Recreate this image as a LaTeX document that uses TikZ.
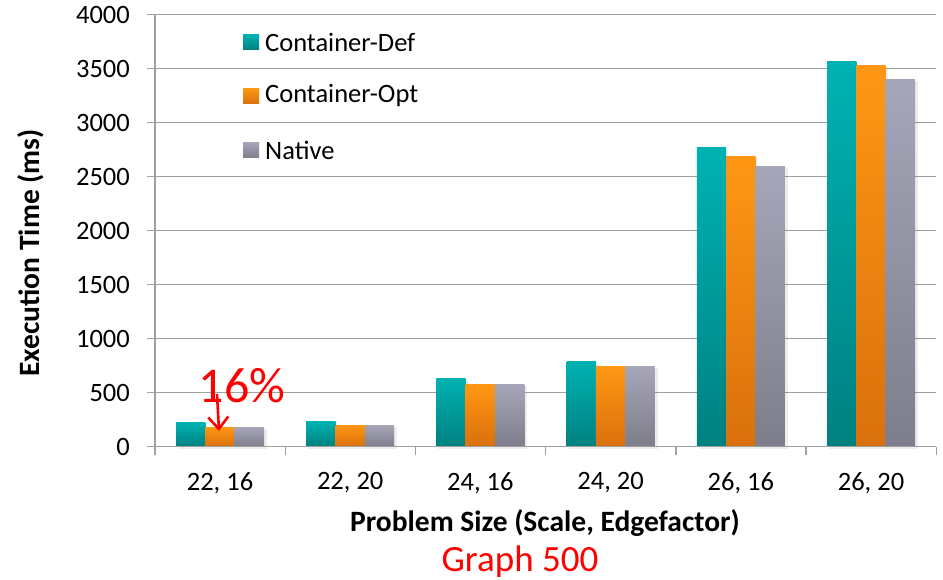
\documentclass[tikz,border=0pt]{standalone}
\usepackage{fontspec}
\setmainfont{Carlito}
\usetikzlibrary{arrows.meta}
\definecolor{gridgray}{HTML}{A0A0A0}
\definecolor{tealtop}{HTML}{00B2B2}
\definecolor{tealbot}{HTML}{008080}
\definecolor{orgtop}{HTML}{FF9714}
\definecolor{orgbot}{HTML}{D9700C}
\definecolor{gratop}{HTML}{A7A6B9}
\definecolor{grabot}{HTML}{7E7D8B}
\definecolor{redtxt}{HTML}{FF0000}
\tikzset{
  gridline/.style={draw=gridgray,line width=1.4pt},
  axisline/.style={draw=gridgray,line width=1.4pt},
  ticklab/.style={font=\fontsize{26.5}{26.5}\selectfont,inner sep=0pt},
  legtxt/.style={font=\fontsize{26.5}{26.5}\selectfont,inner sep=0pt,anchor=west},
  teal bar/.style={top color=tealtop,bottom color=tealbot},
  org bar/.style={top color=orgtop,bottom color=orgbot},
  gra bar/.style={top color=gratop,bottom color=grabot},
  barshadow/.style={fill=black,opacity=0.07},
}
\begin{document}
\begin{tikzpicture}[x=1pt,y=-1pt]
\useasboundingbox (0,0) rectangle (943,580);
% grid lines and y tick labels
\foreach \v in {0,500,...,4000}{
  \draw[gridline] (147,{446.7-0.108*\v}) -- (936,{446.7-0.108*\v});
  \node[ticklab,anchor=east] (y\v) at (130,{446.7-0.108*\v}) {\v};
}
% bars
\foreach \i/\a/\b/\c in {0/222/182/180,1/231/200/200,2/636/580/580,3/793/738/747,4/2766/2690/2599,5/3562/3525/3404}{
  \pgfmathsetmacro{\L}{155+130.2*\i}
  \fill[barshadow] ({\L+23},{446.7-0.108*\a+2}) rectangle ({\L+52.3},449);
  \fill[barshadow] ({\L+52.3},{446.7-0.108*\b+2}) rectangle ({\L+81.6},449);
  \fill[barshadow] ({\L+81.6},{446.7-0.108*\c+2}) rectangle ({\L+112},449);
  \shade[teal bar] ({\L+21},{446.7-0.108*\a}) rectangle ({\L+50.3},446.7);
  \shade[org bar] ({\L+50.3},{446.7-0.108*\b}) rectangle ({\L+79.6},446.7);
  \shade[gra bar] ({\L+79.6},{446.7-0.108*\c}) rectangle ({\L+109},446.7);
}
% axes
\draw[axisline] (155,14.7) -- (155,446.7);
\draw[axisline] (147,446.7) -- (936,446.7);
\foreach \i in {0,...,6}{
  \draw[axisline] ({155+130.2*\i},446.7) -- ({155+130.2*\i},455);
}
% x labels
\foreach \i/\t in {0/{22, 16},1/{22, 20},2/{24, 16},3/{24, 20},4/{26, 16},5/{26, 20}}{
  \node[ticklab] (x\i) at ({220+130.2*\i},483) {\t};
}
% axis titles
\node[font=\bfseries\fontsize{29.5}{29.5}\selectfont,rotate=90,inner sep=0pt] (ytitle) at (31,253) {Execution Time (ms)};
\node[font=\bfseries\fontsize{29.5}{29.5}\selectfont,inner sep=0pt] (xtitle) at (545,523) {Problem Size (Scale, Edgefactor)};
\node[font=\fontsize{37}{37}\selectfont,text=redtxt,inner sep=0pt] (gtitle) at (520,562) {Graph 500};
% legend
\foreach \j/\t/\s in {0/Container-Def/teal bar,1/Container-Opt/org bar,2/Native/gra bar}{
  \shade[\s] (243,{34.5+54*\j}) rectangle (259,{50+54*\j});
  \node[legtxt] (leg\j) at (265,{42+54*\j}) {\t};
}
% annotation
\node[font=\fontsize{50}{50}\selectfont,text=redtxt,inner sep=0pt,anchor=base] (pct) at (242,402) {16\%};
\coordinate (tip) at (219,431);
\draw[redtxt,line width=2.6pt,-{Straight Barb[length=12pt,width=20pt,line width=2.6pt]}] (217,394) -- (tip);
\end{tikzpicture}
\end{document}
